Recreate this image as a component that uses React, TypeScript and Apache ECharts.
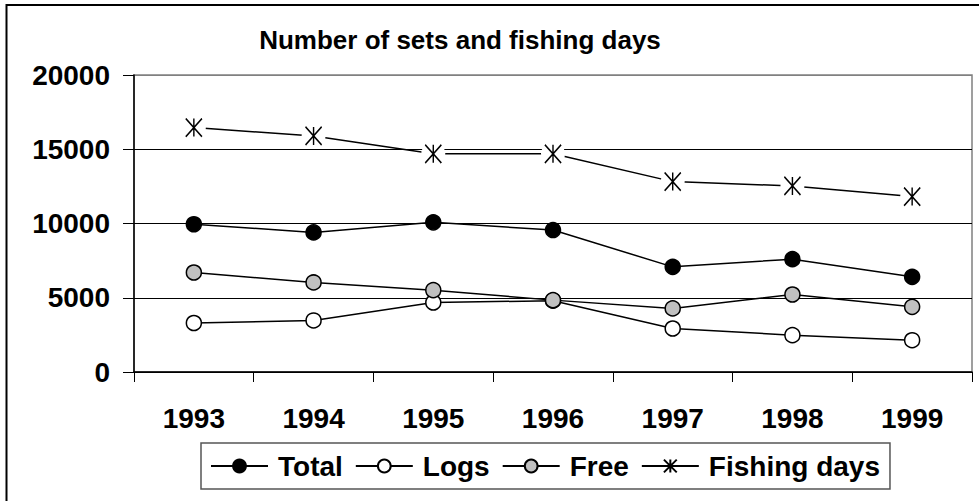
import React, { useEffect, useRef } from 'react';
import * as echarts from 'echarts';

const years = ['1993', '1994', '1995', '1996', '1997', '1998', '1999'];
const total = [9950, 9400, 10080, 9560, 7080, 7600, 6410];
const logs = [3300, 3470, 4680, 4800, 2930, 2480, 2140];
const free = [6700, 6030, 5510, 4840, 4280, 5220, 4390];
const fishingDays = [16460, 15900, 14690, 14690, 12820, 12530, 11810];
const yTicks = { min: 0, max: 20000, interval: 5000 };

const FONT = 'Liberation Sans, Arial, sans-serif';
const ASTERISK = 'path://M0,0L16,18M16,0L0,18M8,0L8,18';

export default function App() {
  const ref = useRef<HTMLDivElement>(null);
  useEffect(() => {
    document.body.style.margin = '0';
    const chart = echarts.init(ref.current!, null, { renderer: 'svg' });
    const markerSeries = (name: string, data: number[], fill: string) => ({
      name,
      type: 'line',
      data,
      z: 5,
      symbol: 'circle',
      symbolSize: 15,
      lineStyle: { color: '#000', width: 1.5 },
      itemStyle: { color: fill, borderColor: '#000', borderWidth: 1.5 },
    });
    chart.setOption({
      animation: false,
      backgroundColor: '#fff',
      title: {
        text: 'Number of sets and fishing days',
        left: 460,
        top: 27,
        textAlign: 'center',
        padding: 0,
        textStyle: { fontFamily: FONT, fontWeight: 'bold', fontSize: 26, color: '#000' },
      },
      graphic: [
        {
          type: 'rect',
          shape: { x: 6.5, y: 5, width: 1000, height: 600 },
          style: { fill: 'none', stroke: '#000', lineWidth: 2 },
          silent: true,
        },
      ],
      grid: {
        left: 134,
        top: 75,
        width: 838,
        height: 297,
        show: true,
        borderColor: '#808080',
        borderWidth: 1.5,
        backgroundColor: 'transparent',
      },
      legend: {
        data: ['Total', 'Logs', 'Free', 'Fishing days'],
        left: 201,
        top: 443,
        orient: 'horizontal',
        padding: [9, 10, 9, 9],
        itemGap: 12,
        itemWidth: 57,
        itemHeight: 16,
        borderColor: '#555',
        borderWidth: 1.5,
        textStyle: { fontFamily: FONT, fontWeight: 'bold', fontSize: 28, color: '#000', padding: [0, 0, 0, 5] },
      },
      xAxis: {
        type: 'category',
        data: years,
        boundaryGap: true,
        axisLine: { lineStyle: { color: '#000', width: 1.5 } },
        axisTick: { show: true, inside: false, length: 10, lineStyle: { color: '#000' } },
        axisLabel: { margin: 32, fontFamily: FONT, fontWeight: 'bold', fontSize: 28, color: '#000' },
        splitLine: { show: false },
      },
      yAxis: {
        type: 'value',
        min: yTicks.min,
        max: yTicks.max,
        interval: yTicks.interval,
        axisLine: { show: true, lineStyle: { color: '#000', width: 1.5 } },
        axisTick: { show: true, inside: false, length: 11, lineStyle: { color: '#000' } },
        axisLabel: {
          margin: 24,
          fontFamily: FONT,
          fontWeight: 'bold',
          fontSize: 28,
          color: '#000',
          formatter: (v: number) => String(v),
        },
        splitLine: { show: true, lineStyle: { color: ['#000', '#000', '#000', '#000', '#808080'], width: 1 } },
      },
      series: [
        markerSeries('Total', total, '#000'),
        markerSeries('Logs', logs, '#fff'),
        markerSeries('Free', free, '#c0c0c0'),
        {
          name: 'Fishing days',
          type: 'line',
          data: fishingDays,
          z: 2,
          symbol: ASTERISK,
          symbolSize: [16, 18],
          lineStyle: { color: '#000', width: 1.5 },
          itemStyle: { color: '#000', borderColor: '#000', borderWidth: 1.5 },
        },
        {
          name: 'fd-gap',
          type: 'scatter',
          data: fishingDays,
          z: 3,
          silent: true,
          symbol: 'circle',
          symbolSize: 24,
          itemStyle: { color: '#fff', borderWidth: 0, opacity: 1 },
        },
        {
          name: 'fd-mark',
          type: 'scatter',
          data: fishingDays,
          z: 4,
          silent: true,
          symbol: ASTERISK,
          symbolSize: [16, 18],
          itemStyle: { color: '#000', borderColor: '#000', borderWidth: 1.5, opacity: 1 },
        },
      ],
    });
    return () => chart.dispose();
  }, []);
  return <div ref={ref} style={{ width: 979, height: 501 }} />;
}
